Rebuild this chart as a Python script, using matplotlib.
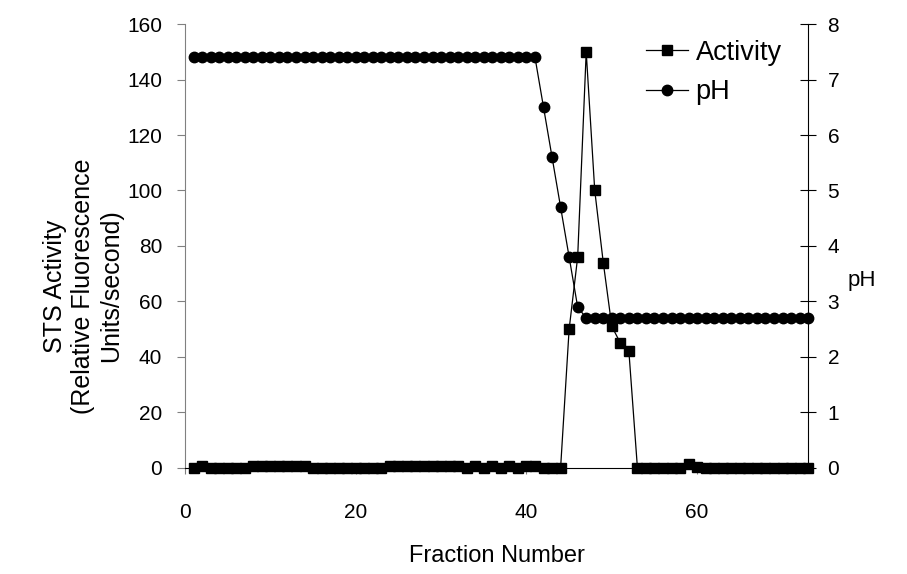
import numpy as np
import matplotlib
matplotlib.use('Agg')
import matplotlib.pyplot as plt

plt.rcParams['font.family'] = ['Liberation Sans', 'DejaVu Sans']

# fraction numbers 1..73
fractions = list(range(1, 74))

# STS activity (relative fluorescence units / second)
activity = [0, 0.8, 0, 0, 0, 0, 0, 0.7, 0.7, 0.7, 0.7, 0.7, 0.7, 0.7,
            0, 0, 0, 0, 0, 0, 0, 0, 0,
            0.7, 0.7, 0.7, 0.7, 0.7, 0.7, 0.7, 0.7, 0.7,
            0, 0.7, 0, 0.7, 0, 0.7, 0, 0.7, 0.7, 0, 0, 0,
            50, 76, 150, 100, 74, 51, 45, 42,
            0, 0, 0, 0, 0, 0, 1.5, 0.4,
            0, 0, 0, 0, 0, 0, 0, 0, 0, 0, 0, 0, 0]

# pH of each fraction
ph = [7.4] * 41 + [6.5, 5.6, 4.7, 3.8, 2.9] + [2.7] * 27

fig = plt.figure(figsize=(9.07, 5.74), dpi=100)
ax = fig.add_axes([0.204, 0.185, 0.687, 0.773])
ax2 = ax.twinx()

l1, = ax.plot(fractions, activity, color='black', lw=0.9, marker='s', ms=7,
              label='Activity', clip_on=False)
l2, = ax2.plot(fractions, ph, color='black', lw=0.9, marker='o', ms=7.5,
               label='pH', clip_on=False)

ax.set_xlim(0, 73)
ax.set_ylim(0, 160)
ax.set_yticks(range(0, 161, 20))
ax.set_xticks([0, 20, 40, 60])
ax2.set_ylim(0, 8)
ax2.set_yticks(range(0, 9))

ax.spines['top'].set_visible(False)
ax2.spines['top'].set_visible(False)
ax.spines['left'].set_color('#808080')
ax2.spines['left'].set_visible(False)
ax2.spines['bottom'].set_visible(False)
ax.spines['right'].set_visible(False)
ax2.spines['right'].set_color('black')
ax.spines['bottom'].set_color('black')

ax.tick_params(axis='y', direction='out', length=6, width=0.8, color='#808080',
               labelcolor='black', labelsize=15, pad=10.5)
ax.tick_params(axis='x', direction='out', length=4, width=0.8, labelsize=15, pad=21,
               color='#808080')
ax2.tick_params(axis='y', direction='inout', length=12, width=0.8, labelsize=15, pad=8)

ax.set_xlabel('Fraction Number', fontsize=17)
ax.xaxis.set_label_coords(0.5, -0.175)
ax.set_ylabel('STS Activity\n(Relative Fluorescence\nUnits/second)', fontsize=18,
              linespacing=1.2)
ax.yaxis.set_label_coords(-0.1, 0.41)
ax2.set_ylabel('pH', fontsize=16, rotation=0, ha='left', va='center')
ax2.yaxis.set_label_coords(1.063, 0.423)

ax.legend([l1, l2], ['Activity', 'pH'], loc='upper left', bbox_to_anchor=(0.7, 1.02),
          frameon=False, fontsize=19.5, handlelength=1.55, handletextpad=0.3,
          labelspacing=0.5)

fig.savefig('out.png', dpi=100)
